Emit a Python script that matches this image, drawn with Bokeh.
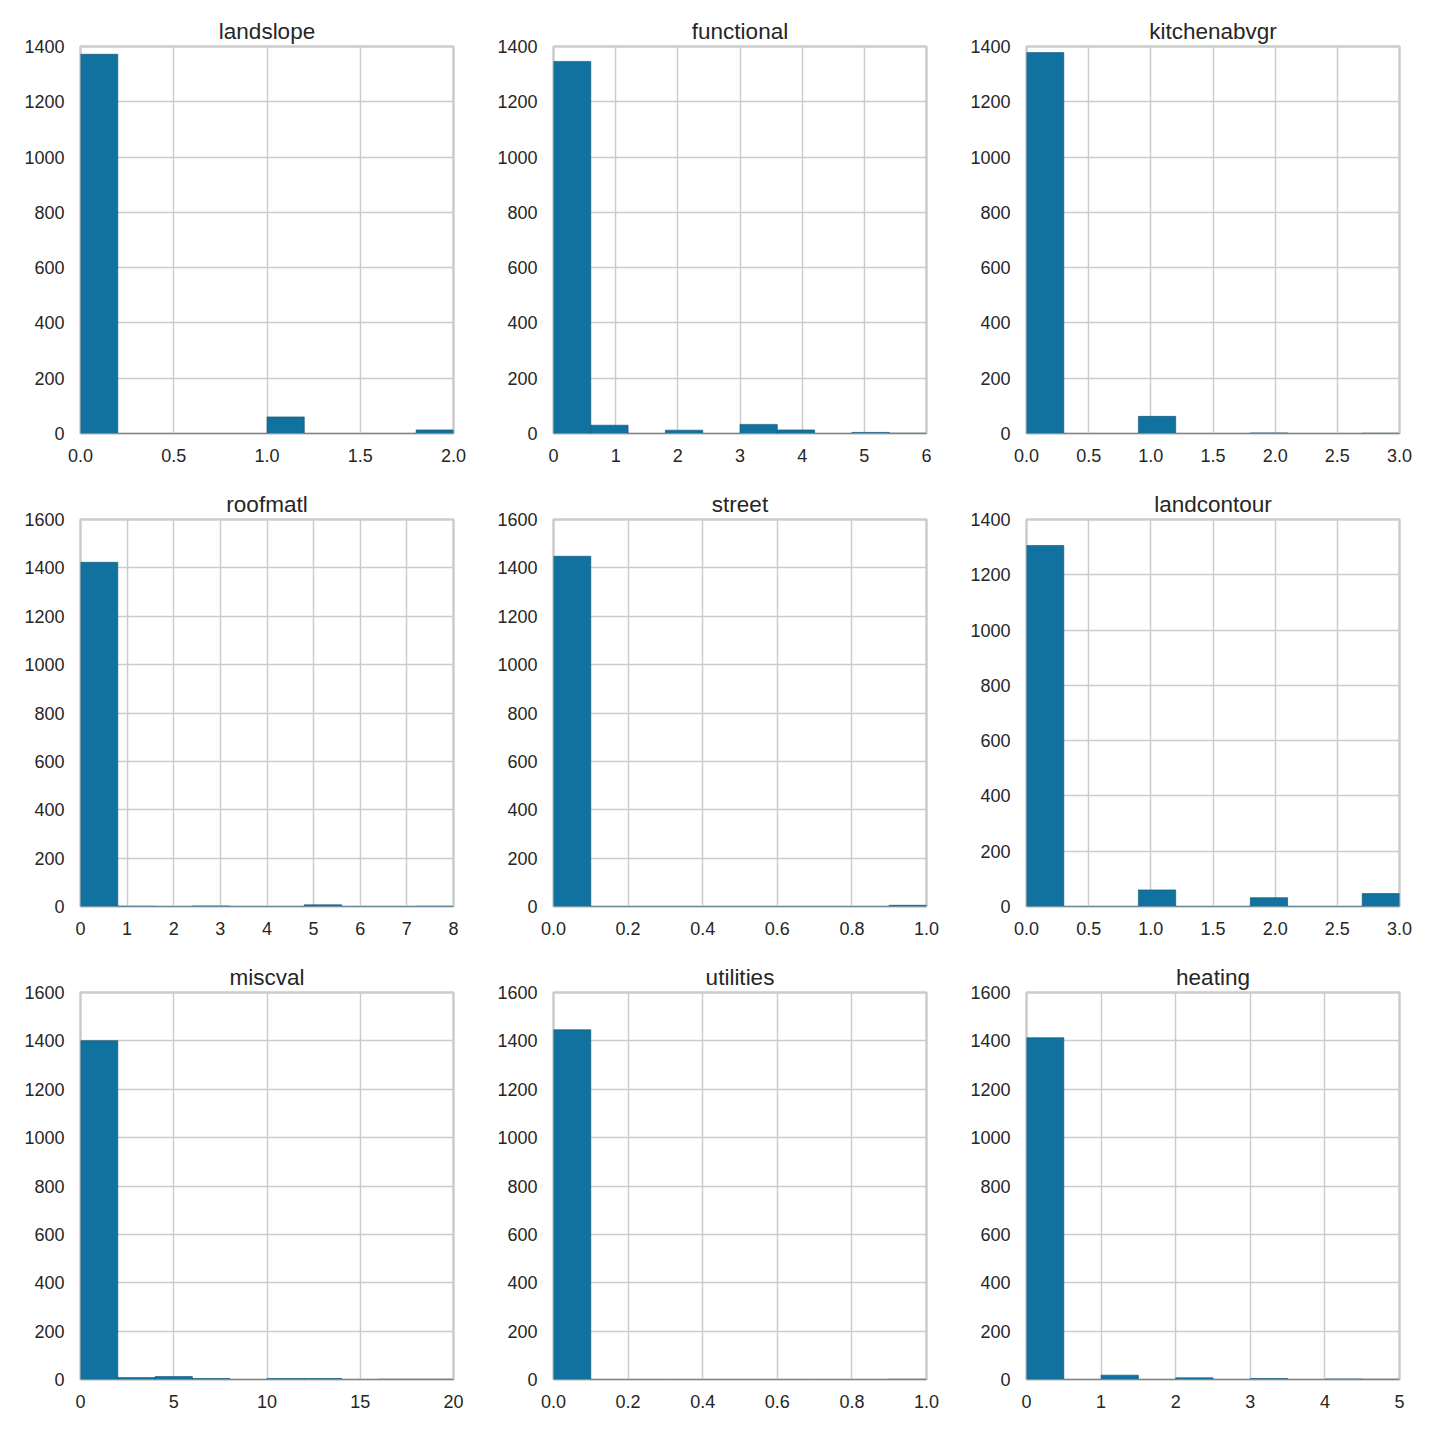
import numpy as np
from bokeh.plotting import figure
from bokeh.layouts import gridplot
from bokeh.models import FixedTicker, PrintfTickFormatter
from bokeh.embed import file_html
from bokeh.resources import INLINE

# ---- data: 10-bin histogram counts per variable, with value range ----
names = ["landslope", "functional", "kitchenabvgr",
         "roofmatl", "street", "landcontour",
         "miscval", "utilities", "heating"]

landslope_range = (0, 2)
landslope_counts = [1372, 0, 0, 0, 0, 60, 0, 0, 0, 13]

functional_range = (0, 6)
functional_counts = [1346, 30, 0, 12, 0, 33, 13, 0, 4, 1]

kitchenabvgr_range = (0, 3)
kitchenabvgr_counts = [1378, 0, 0, 62, 0, 0, 2, 0, 0, 1]

roofmatl_range = (0, 8)
roofmatl_counts = [1423, 1, 0, 2, 0, 0, 7, 0, 0, 1]

street_range = (0, 1)
street_counts = [1448, 0, 0, 0, 0, 0, 0, 0, 0, 5]

landcontour_range = (0, 3)
landcontour_counts = [1306, 0, 0, 60, 0, 0, 32, 0, 0, 47]

miscval_range = (0, 20)
miscval_counts = [1401, 8, 12, 4, 0, 4, 4, 0, 1, 1]

utilities_range = (0, 1)
utilities_counts = [1446, 0, 0, 0, 0, 0, 0, 0, 0, 1]

heating_range = (0, 5)
heating_counts = [1413, 0, 18, 0, 7, 0, 4, 0, 2, 1]

x_ticks = {
    "landslope": [0, 0.5, 1.0, 1.5, 2.0],
    "functional": [0, 1, 2, 3, 4, 5, 6],
    "kitchenabvgr": [0, 0.5, 1.0, 1.5, 2.0, 2.5, 3.0],
    "roofmatl": [0, 1, 2, 3, 4, 5, 6, 7, 8],
    "street": [0, 0.2, 0.4, 0.6, 0.8, 1.0],
    "landcontour": [0, 0.5, 1.0, 1.5, 2.0, 2.5, 3.0],
    "miscval": [0, 5, 10, 15, 20],
    "utilities": [0, 0.2, 0.4, 0.6, 0.8, 1.0],
    "heating": [0, 1, 2, 3, 4, 5],
}
x_fmt = {
    "landslope": "%.1f", "functional": "%d", "kitchenabvgr": "%.1f",
    "roofmatl": "%d", "street": "%.1f", "landcontour": "%.1f",
    "miscval": "%d", "utilities": "%.1f", "heating": "%d",
}
y_max = {
    "landslope": 1400, "functional": 1400, "kitchenabvgr": 1400,
    "roofmatl": 1600, "street": 1600, "landcontour": 1400,
    "miscval": 1600, "utilities": 1600, "heating": 1600,
}

data = {
    "landslope": (landslope_range, landslope_counts),
    "functional": (functional_range, functional_counts),
    "kitchenabvgr": (kitchenabvgr_range, kitchenabvgr_counts),
    "roofmatl": (roofmatl_range, roofmatl_counts),
    "street": (street_range, street_counts),
    "landcontour": (landcontour_range, landcontour_counts),
    "miscval": (miscval_range, miscval_counts),
    "utilities": (utilities_range, utilities_counts),
    "heating": (heating_range, heating_counts),
}

BAR = "#12729f"
EDGE = "#0b4f70"
GRID = "#cccccc"
TXT = "#262626"
FONT = "Liberation Sans"

figs = []
for i, name in enumerate(names):
    (lo, hi), counts = data[name]
    edges = np.linspace(lo, hi, len(counts) + 1)
    p = figure(width=473, height=473, output_backend="svg", toolbar_location=None,
               x_range=(lo, hi), y_range=(0, y_max[name]),
               min_border_left=80, min_border_right=20,
               min_border_top=46, min_border_bottom=40,
               title=name)
    p.quad(left=edges[:-1], right=edges[1:], bottom=0, top=counts,
           fill_color=BAR, line_color=EDGE, line_width=0.6)
    p.title.align = "center"
    p.title.text_font = FONT
    p.title.text_font_size = "22.5px"
    p.title.text_font_style = "normal"
    p.title.text_color = TXT
    p.title.offset = 0
    p.title.standoff = 6
    p.xaxis.ticker = FixedTicker(ticks=x_ticks[name])
    p.xaxis.formatter = PrintfTickFormatter(format=x_fmt[name])
    p.yaxis.ticker = FixedTicker(ticks=list(range(0, y_max[name] + 1, 200)))
    for ax in (p.xaxis[0], p.yaxis[0]):
        ax.axis_line_color = None
        ax.major_tick_line_color = None
        ax.minor_tick_line_color = None
        ax.major_label_text_font = FONT
        ax.major_label_text_font_size = "18px"
        ax.major_label_text_color = TXT
    p.xaxis.major_label_standoff = 9
    p.yaxis.major_label_standoff = 10
    p.xgrid.grid_line_color = GRID
    p.ygrid.grid_line_color = GRID
    p.xgrid.grid_line_width = 1.5
    p.ygrid.grid_line_width = 1.5
    p.outline_line_color = GRID
    p.outline_line_width = 2.5
    p.outline_line_alpha = 1.0
    p.background_fill_color = "white"
    p.border_fill_color = "white"
    figs.append(p)

grid = gridplot(figs, ncols=3, toolbar_location=None)
open("out.html", "w").write(file_html(grid, INLINE))
